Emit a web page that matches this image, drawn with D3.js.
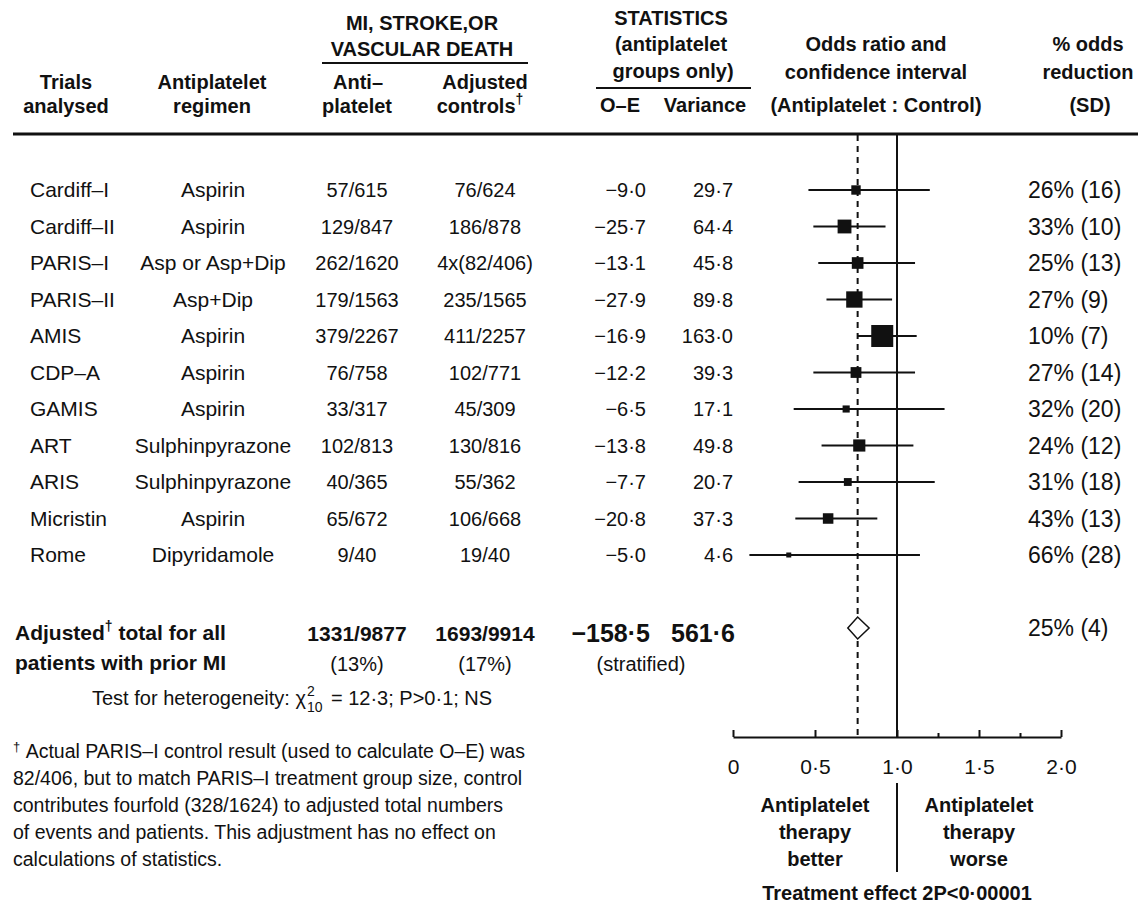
<!DOCTYPE html>
<html><head><meta charset="utf-8">
<script src="https://cdn.jsdelivr.net/npm/d3@7"></script>
<style>
html,body{margin:0;padding:0;background:#fff;}
svg{display:block;}
text{font-family:"Liberation Sans",Arial,Helvetica,sans-serif;fill:#111;}
</style></head><body>
<svg id="chart" width="1138" height="904"></svg>
<script>
// ---------- data ----------
const trials = ["Cardiff–I","Cardiff–II","PARIS–I","PARIS–II","AMIS","CDP–A","GAMIS","ART","ARIS","Micristin","Rome"];
const regimens = ["Aspirin","Aspirin","Asp or Asp+Dip","Asp+Dip","Aspirin","Aspirin","Aspirin","Sulphinpyrazone","Sulphinpyrazone","Aspirin","Dipyridamole"];
const antiplateletEvents = ["57/615","129/847","262/1620","179/1563","379/2267","76/758","33/317","102/813","40/365","65/672","9/40"];
const controlEvents = ["76/624","186/878","4x(82/406)","235/1565","411/2257","102/771","45/309","130/816","55/362","106/668","19/40"];
const oMinusE = [-9.0,-25.7,-13.1,-27.9,-16.9,-12.2,-6.5,-13.8,-7.7,-20.8,-5.0];
const variance = [29.7,64.4,45.8,89.8,163.0,39.3,17.1,49.8,20.7,37.3,4.6];
const oddsRatio = [0.75,0.68,0.76,0.74,0.91,0.75,0.69,0.77,0.70,0.58,0.34];
const ciLow =     [0.46,0.49,0.52,0.57,0.76,0.49,0.37,0.54,0.40,0.38,0.10];
const ciHigh =    [1.20,0.93,1.11,0.97,1.12,1.11,1.29,1.10,1.23,0.88,1.14];
const pctReduction = [26,33,25,27,10,27,32,24,31,43,66];
const pctSD = [16,10,13,9,7,14,20,12,18,13,28];

const totalAnti = "1331/9877", totalAntiPct = "(13%)";
const totalCtrl = "1693/9914", totalCtrlPct = "(17%)";
const totalOE = -158.5, totalVar = 561.6;
const totalOR = 0.76, totalLow = 0.70, totalHigh = 0.83;
const totalPct = 25, totalSD = 4;

const axisTicks = [0, 0.5, 1, 1.5, 2];
const minorTicks = [1.25, 1.75];

const footnote = [
  "Actual PARIS–I control result (used to calculate O–E) was",
  "82/406, but to match PARIS–I treatment group size, control",
  "contributes fourfold (328/1624) to adjusted total numbers",
  "of events and patients. This adjustment has no effect on",
  "calculations of statistics."
];

// ---------- drawing ----------
const svg = d3.select("#chart");
svg.append("rect").attr("width",1138).attr("height",904).attr("fill","#fff");
const ink = "#111";

const x = d3.scaleLinear().domain([0,2]).range([733,1061]);
const y = d3.scalePoint().domain(trials).range([190,555]);
const step = y.step();
const totalY = y(trials[trials.length-1]) + 2*step;
const boxSize = d3.scaleSqrt().domain([0, d3.max(variance)]).range([0, 22]);
const dot = v => d3.format(".1f")(v).replace(".", "·");

function txt(s, px, py, o = {}) {
  return svg.append("text").attr("x", px).attr("y", py)
    .attr("text-anchor", o.anchor || "start")
    .attr("font-size", o.size || 20)
    .attr("font-weight", o.bold ? "bold" : "normal")
    .text(s);
}
const H = (s, cx, by) => txt(s, cx, by, {anchor:"middle", size:20, bold:true});

const lineTop = 134;

// headers
H("Trials", 66, 89); H("analysed", 66, 113);
H("Antiplatelet", 212, 89); H("regimen", 212, 113);
H("MI, STROKE,OR", 422, 30); H("VASCULAR DEATH", 422, 56);
svg.append("line").attr("x1",322).attr("x2",528).attr("y1",63).attr("y2",63).attr("stroke",ink).attr("stroke-width",2);
H("Anti–", 358, 89); H("platelet", 357, 113);
H("Adjusted", 485, 89);
const ctl = H("controls", 480, 113);
ctl.append("tspan").attr("dy",-9).attr("font-size",14).text("†");
H("STATISTICS", 671, 25); H("(antiplatelet", 671, 51); H("groups only)", 673, 78);
svg.append("line").attr("x1",596).attr("x2",751).attr("y1",88).attr("y2",88).attr("stroke",ink).attr("stroke-width",2);
H("O–E", 620, 112); H("Variance", 705, 112);
H("Odds ratio and", 876, 51); H("confidence interval", 876, 79); H("(Antiplatelet : Control)", 876, 112);
H("% odds", 1088, 51); H("reduction", 1088, 79); H("(SD)", 1090, 112);

svg.append("line").attr("x1",13).attr("x2",1138).attr("y1",lineTop).attr("y2",lineTop).attr("stroke",ink).attr("stroke-width",3);

// reference lines
svg.append("line").attr("x1",x(1)).attr("x2",x(1)).attr("y1",lineTop+1).attr("y2",737).attr("stroke",ink).attr("stroke-width",2);
svg.append("line").attr("x1",x(totalOR)).attr("x2",x(totalOR)).attr("y1",lineTop+1).attr("y2",737)
  .attr("stroke",ink).attr("stroke-width",2).attr("stroke-dasharray","6,5");

// rows
trials.forEach((t,i) => {
  const yy = y(t);
  txt(t, 30, yy+7, {size:21});
  txt(regimens[i], 213, yy+7, {size:21, anchor:"middle"});
  txt(antiplateletEvents[i], 357, yy+7, {anchor:"middle"});
  txt(controlEvents[i], 485, yy+7, {anchor:"middle"});
  txt(dot(oMinusE[i]), 646, yy+7, {anchor:"end"});
  txt(dot(variance[i]), 733, yy+7, {anchor:"end"});
  txt(`${pctReduction[i]}% (${pctSD[i]})`, 1028, yy+8, {size:23});
});

const g = svg.append("g");
g.selectAll("line.ci").data(trials).join("line").attr("class","ci")
  .attr("x1",(d,i)=>x(ciLow[i])).attr("x2",(d,i)=>x(ciHigh[i]))
  .attr("y1",d=>y(d)).attr("y2",d=>y(d)).attr("stroke",ink).attr("stroke-width",2);
g.selectAll("rect.box").data(trials).join("rect").attr("class","box")
  .each(function(d,i){
    const s = Math.max(5, boxSize(variance[i]));
    d3.select(this).attr("x", x(oddsRatio[i]) - s/2).attr("y", y(d) - s/2)
      .attr("width", s).attr("height", s).attr("fill", ink);
  });

// total
const dh = 11;
svg.append("path")
  .attr("d", `M${x(totalLow)},${totalY}L${x(totalOR)},${totalY-dh}L${x(totalHigh)},${totalY}L${x(totalOR)},${totalY+dh}Z`)
  .attr("fill","#fff").attr("stroke",ink).attr("stroke-width",1.5);

const adj = txt("Adjusted", 15, 640, {size:21, bold:true});
adj.append("tspan").attr("dy",-9).attr("font-size",14).text("†");
adj.append("tspan").attr("dy",9).text("\u00A0total for all");
txt("patients with prior MI", 15, 670, {size:21, bold:true});
txt(totalAnti, 357, 641, {anchor:"middle", size:21, bold:true});
txt(totalAntiPct, 357, 671, {anchor:"middle"});
txt(totalCtrl, 485, 641, {anchor:"middle", size:21, bold:true});
txt(totalCtrlPct, 485, 671, {anchor:"middle"});
txt(dot(totalOE), 650, 642, {anchor:"end", size:25, bold:true});
txt(dot(totalVar), 735, 642, {anchor:"end", size:25, bold:true});
txt("(stratified)", 641, 671, {anchor:"middle"});
txt(`${totalPct}% (${totalSD})`, 1028, totalY+8, {size:23});

// heterogeneity
const het = txt("Test for heterogeneity: χ", 92, 705);
const hw = het.node().getComputedTextLength();
txt("2", 92+hw+1, 696, {size:14});
txt("10", 92+hw+1, 712, {size:14});
txt("= 12·3; P>0·1; NS", 92+hw+25, 705);

// footnote
footnote.forEach((line,k) => {
  const t = txt(k===0 ? "" : line, 13, 758 + 27*k, {size:19.5});
  if (k===0) {
    t.append("tspan").attr("font-size",13).attr("dy",-7).text("†");
    t.append("tspan").attr("dy",7).text("\u00A0" + line);
  }
});

// axis
const ax = svg.append("g").attr("transform","translate(0,737)")
  .call(d3.axisBottom(x).tickValues(axisTicks).tickSize(-7).tickSizeOuter(0).tickPadding(22)
    .tickFormat(d => d===0 ? "0" : dot(d)));
ax.select(".domain").attr("stroke",ink).attr("stroke-width",2);
ax.selectAll(".tick line").attr("stroke",ink).attr("stroke-width",2);
ax.selectAll(".tick text").attr("font-size",21).attr("font-family",null).attr("fill",ink);
const axm = svg.append("g").attr("transform","translate(0,737)")
  .call(d3.axisBottom(x).tickValues(minorTicks).tickSize(-4).tickFormat(""));
axm.select(".domain").remove();
axm.selectAll(".tick line").attr("stroke",ink).attr("stroke-width",2);

// bottom labels
svg.append("line").attr("x1",x(1)).attr("x2",x(1)).attr("y1",783).attr("y2",872).attr("stroke",ink).attr("stroke-width",2);
["Antiplatelet","therapy","better"].forEach((s,k)=>txt(s, x(0.5), 812+27*k, {anchor:"middle", bold:true}));
["Antiplatelet","therapy","worse"].forEach((s,k)=>txt(s, x(1.5), 812+27*k, {anchor:"middle", bold:true}));
txt("Treatment effect 2P<0·00001", x(1), 900, {anchor:"middle", bold:true});
</script></body></html>
